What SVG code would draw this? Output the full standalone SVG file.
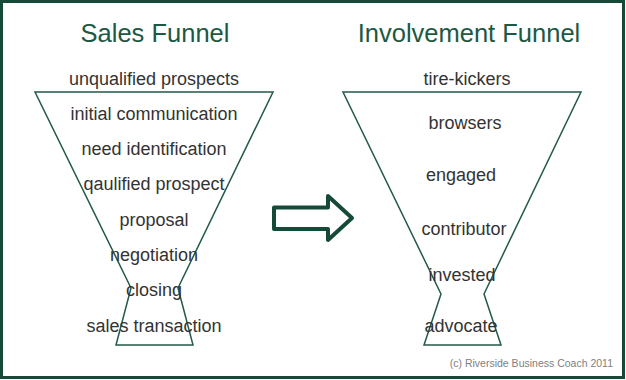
<svg xmlns="http://www.w3.org/2000/svg" width="626" height="380" viewBox="0 0 626 380">
<style>
.title{font-family:"Liberation Sans",Arial,sans-serif;font-size:25.5px;fill:#1d5843;text-anchor:middle}
.lbl{font-family:"Liberation Sans",Arial,sans-serif;font-size:18px;fill:#333;text-anchor:middle}
.funnel{fill:none;stroke:#245a47;stroke-width:1.5;stroke-linejoin:miter}
.copy{font-family:"Liberation Sans",Arial,sans-serif;font-size:10.5px;fill:#808080;text-anchor:end}
</style>
<rect x="1.5" y="1.5" width="622" height="376" fill="#fff" stroke="#164a38" stroke-width="3"/>
<g id="sales-funnel">
<text class="title" x="155" y="42">Sales Funnel</text>
<polygon class="funnel" points="35,92 273,92 178,288 193,345 116,345 131,288"/>
<text class="lbl" x="154" y="85">unqualified prospects</text>
<text class="lbl" x="154" y="120">initial communication</text>
<text class="lbl" x="154" y="155">need identification</text>
<text class="lbl" x="154" y="190">qaulified prospect</text>
<text class="lbl" x="154" y="226">proposal</text>
<text class="lbl" x="154" y="261">negotiation</text>
<text class="lbl" x="154" y="296">closing</text>
<text class="lbl" x="154" y="332">sales transaction</text>
</g>
<g id="involvement-funnel">
<text class="title" x="469" y="42">Involvement Funnel</text>
<polygon class="funnel" points="343,92 581,92 484,294 501,345 424,345 441,294"/>
<text class="lbl" x="467" y="85">tire-kickers</text>
<text class="lbl" x="465" y="129">browsers</text>
<text class="lbl" x="461" y="181">engaged</text>
<text class="lbl" x="464" y="235">contributor</text>
<text class="lbl" x="462" y="281">invested</text>
<text class="lbl" x="461" y="332">advocate</text>
</g>
<g id="connectors">
<polygon points="274,207.5 328,207.5 328,196 352,218 328,240 328,229 274,229" fill="#fff" stroke="#164a38" stroke-width="4" stroke-linejoin="round"/>
</g>
<text class="copy" x="613" y="367">(c) Riverside Business Coach 2011</text>
</svg>
